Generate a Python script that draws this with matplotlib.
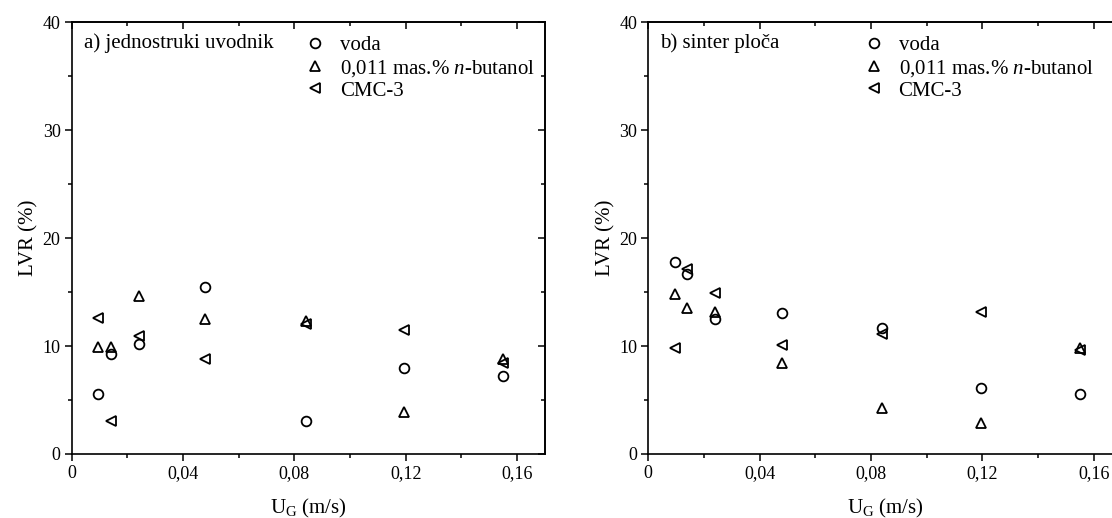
import matplotlib
matplotlib.use("Agg")
import matplotlib.pyplot as plt
from matplotlib.ticker import MultipleLocator, FixedLocator, FixedFormatter

plt.rcParams['font.family'] = ['Liberation Serif', 'DejaVu Serif']
plt.rcParams['mathtext.fontset'] = 'custom'
plt.rcParams['mathtext.rm'] = 'Liberation Serif'
plt.rcParams['mathtext.it'] = 'Liberation Serif:italic'

# ---- data ----
ug = [0.0095, 0.014, 0.024, 0.048, 0.084, 0.1195, 0.155]

a_voda = [5.6, 9.3, 10.2, 15.5, 3.1, 8.0, 7.2]
a_butanol = [9.9, 9.9, 14.6, 12.5, 12.3, 3.9, 8.8]
a_cmc = [12.6, 3.1, 10.9, 8.8, 12.0, 11.5, 8.4]

b_voda = [17.8, 16.7, 12.5, 13.1, 11.7, 6.1, 5.6]
b_butanol = [14.8, 13.5, 13.2, 8.4, 4.3, 2.9, 9.8]
b_cmc = [9.8, 17.1, 14.9, 10.1, 11.1, 13.2, 9.6]

series_labels = ['voda', r'0,011 mas.% $\mathit{n}$-butanol', 'CMC-3']
panel_titles = ['a) jednostruki uvodnik', 'b) sinter plo\u010da']
xtick_vals = [0, 0.04, 0.08, 0.12, 0.16]
xtick_labels = ['0', '0,04', '0,08', '0,12', '0,16']
ytick_vals = [0, 10, 20, 30, 40]
ytick_labels = ['0', '10', '20', '30', '40']
xlabel = r'U$_{\mathregular{G}}$ (m/s)'
ylabel = 'LVR (%)'

W, H = 1112, 518
fig = plt.figure(figsize=(W / 100, H / 100), dpi=100)

markers = ['o', '^', '<']
ms = 7
mew = 1.3


def make_panel(left_px, data, title, leg_x):
    ax = fig.add_axes([left_px / W, (H - 454) / H, 473.3 / W, 431.7 / H])
    for vals, m, lab in zip(data, markers, series_labels):
        ax.plot(ug, vals, linestyle='none', marker=m, ms=ms, mfc='none',
                mec='black', mew=mew, label=lab, clip_on=False)
    ax.set_xlim(0, 0.17)
    ax.set_ylim(0, 40)
    ax.xaxis.set_major_locator(FixedLocator(xtick_vals))
    ax.xaxis.set_major_formatter(FixedFormatter(xtick_labels))
    ax.xaxis.set_minor_locator(MultipleLocator(0.02))
    ax.yaxis.set_major_locator(FixedLocator(ytick_vals))
    ax.yaxis.set_major_formatter(FixedFormatter(ytick_labels))
    ax.yaxis.set_minor_locator(MultipleLocator(5))
    ax.tick_params(which='both', direction='out', labelsize=13, width=1.1,
                   top=False, right=False)
    ax.tick_params(which='major', length=5, pad=3)
    ax.tick_params(which='minor', length=3)
    for s in ax.spines.values():
        s.set_linewidth(1.2)
    # mirrored inward ticks on top and right
    top = ax.secondary_xaxis('top')
    top.xaxis.set_major_locator(FixedLocator(xtick_vals))
    top.xaxis.set_minor_locator(MultipleLocator(0.02))
    top.tick_params(which='both', direction='in', labeltop=False, width=1.1)
    top.tick_params(which='major', length=5)
    top.tick_params(which='minor', length=3)
    top.spines['top'].set_linewidth(1.2)
    right = ax.secondary_yaxis('right')
    right.yaxis.set_major_locator(FixedLocator(ytick_vals))
    right.yaxis.set_minor_locator(MultipleLocator(5))
    right.tick_params(which='both', direction='in', labelright=False, width=1.1)
    right.tick_params(which='major', length=5)
    right.tick_params(which='minor', length=3)
    right.spines['right'].set_linewidth(1.2)

    ax.set_xlabel(xlabel, fontsize=15, labelpad=11)
    ax.set_ylabel(ylabel, fontsize=15, labelpad=3)
    ax.text(0.025, 0.952, title, transform=ax.transAxes, fontsize=15,
            ha='left', va='center')
    ax.legend(loc='upper left', bbox_to_anchor=(leg_x, 0.969), frameon=False,
              fontsize=15, borderaxespad=0, borderpad=0, handlelength=1.0,
              handletextpad=0.7, labelspacing=0.12, markerscale=1.0)
    return ax


make_panel(71.7, [a_voda, a_butanol, a_cmc], panel_titles[0], 0.493)
make_panel(648.3, [b_voda, b_butanol, b_cmc], panel_titles[1], 0.454)

fig.savefig('out.png', dpi=100)
